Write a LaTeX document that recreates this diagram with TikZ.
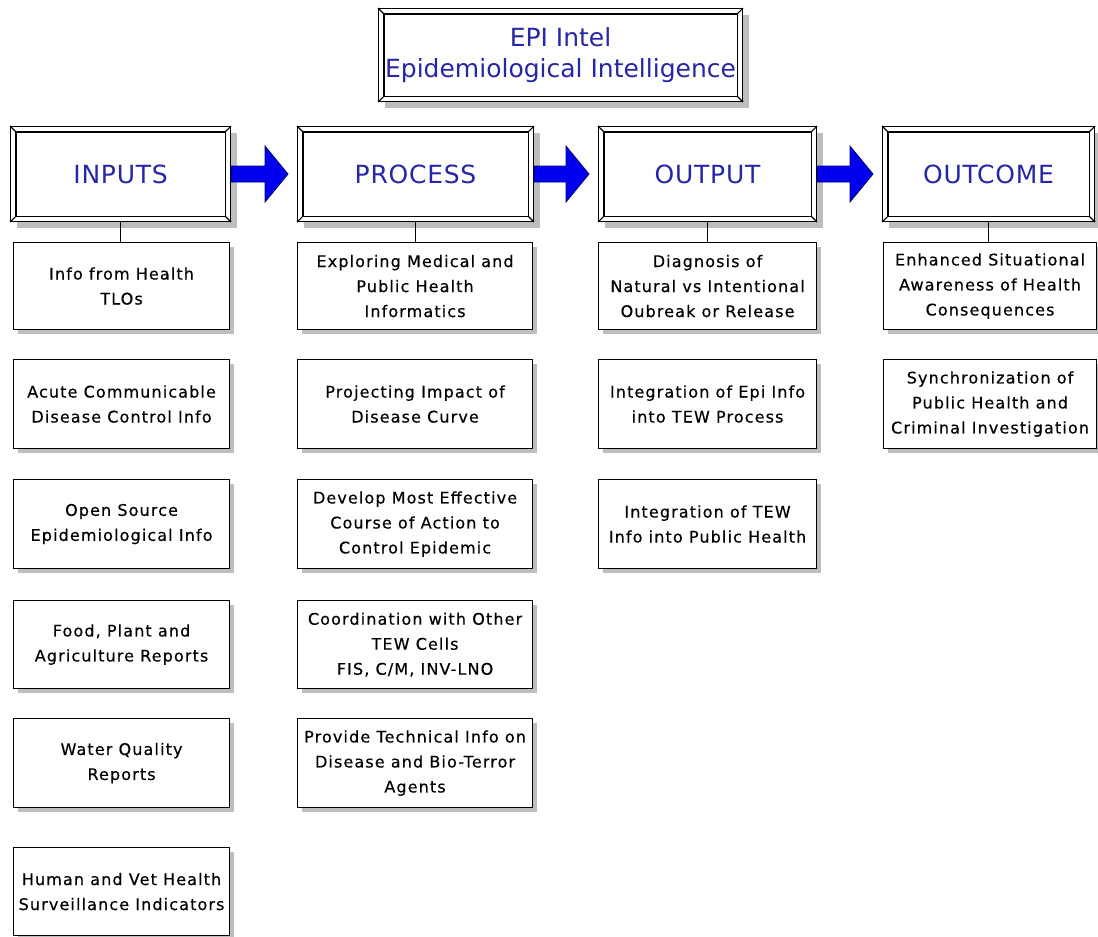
\documentclass[tikz,border=0pt]{standalone}
\usepackage{fontspec}
\usetikzlibrary{shadows,calc}
\newfontfamily\bodyfont[LetterSpace=7,FakeBold=0.4]{DejaVu Sans}
\newfontfamily\headfont[LetterSpace=3]{DejaVu Sans}
\newfontfamily\titlefont{DejaVu Sans}
\definecolor{headblue}{RGB}{38,38,168}
\definecolor{arrowblue}{RGB}{0,0,238}
\definecolor{arrowedge}{RGB}{0,0,120}
\definecolor{shadowgray}{RGB}{190,190,190}

\begin{document}
\begin{tikzpicture}[x=1pt,y=-1pt,
  itembox/.style={draw, line width=1.1pt, fill=white, align=center,
    inner sep=0pt, anchor=north west,
    font={\bodyfont\fontsize{16pt}{25pt}\selectfont},
    drop shadow={shadow xshift=4pt, shadow yshift=-4pt, fill=shadowgray, opacity=1}},
  headbox/.style={draw, line width=1.1pt, fill=white, align=center,
    inner sep=0pt, anchor=north west, text=headblue,
    font={\headfont\fontsize{25pt}{30pt}\selectfont},
    drop shadow={shadow xshift=6pt, shadow yshift=-6pt, fill=shadowgray, opacity=1}},
  frame/.style={line width=1.1pt},
  link/.style={line width=1.1pt},
  bluearrow/.style={fill=arrowblue, draw=arrowedge, line width=0.8pt, line join=miter}
]
\fill[white] (0,0) rectangle (1098,937);
\useasboundingbox (0,0) rectangle (1098,937);

% title block
\node[headbox, font={\titlefont\fontsize{25pt}{31pt}\selectfont},
  minimum width=364pt, minimum height=93pt] (title) at (378,8)
  {EPI Intel\\Epidemiological Intelligence};

% column headings
\node[headbox, minimum width=220pt, minimum height=95pt] (hin)  at (10,126)  {INPUTS};
\node[headbox, minimum width=236pt, minimum height=95pt] (hpr)  at (297,126) {PROCESS};
\node[headbox, minimum width=218pt, minimum height=95pt] (hout) at (598,126) {OUTPUT};
\node[headbox, minimum width=212pt, minimum height=95pt] (hoc)  at (882,126) {OUTCOME};

% inner frame lines and bevelled corners of the framed boxes
\foreach \n in {title,hin,hpr,hout,hoc}{
  \draw[frame] ([shift={(6pt,-6pt)}]\n.north west) rectangle ([shift={(-6pt,6pt)}]\n.south east);
  \draw[frame] (\n.north west) -- ([shift={(6pt,-6pt)}]\n.north west);
  \draw[frame] (\n.north east) -- ([shift={(-6pt,-6pt)}]\n.north east);
  \draw[frame] (\n.south west) -- ([shift={(6pt,6pt)}]\n.south west);
  \draw[frame] (\n.south east) -- ([shift={(-6pt,6pt)}]\n.south east);
}

% inputs
\node[itembox, minimum width=216pt, minimum height=87pt] (a1) at (13,242) {Info from Health\\TLOs};
\node[itembox, minimum width=216pt, minimum height=89pt] (a2) at (13,359) {Acute Communicable\\Disease Control Info};
\node[itembox, minimum width=216pt, minimum height=89pt] (a3) at (13,479) {Open Source\\Epidemiological Info};
\node[itembox, minimum width=216pt, minimum height=88pt] (a4) at (13,600) {Food, Plant and\\Agriculture Reports};
\node[itembox, minimum width=216pt, minimum height=89pt] (a5) at (13,718) {Water Quality\\Reports};
\node[itembox, minimum width=216pt, minimum height=88pt] (a6) at (13,847) {Human and Vet Health\\Surveillance Indicators};

% process
\node[itembox, minimum width=235pt, minimum height=87pt] (b1) at (297,242) {Exploring Medical and\\Public Health\\Informatics};
\node[itembox, minimum width=235pt, minimum height=89pt] (b2) at (297,359) {Projecting Impact of\\Disease Curve};
\node[itembox, minimum width=235pt, minimum height=89pt] (b3) at (297,479) {Develop Most Effective\\Course of Action to\\Control Epidemic};
\node[itembox, minimum width=235pt, minimum height=88pt] (b4) at (297,600) {Coordination with Other\\TEW Cells\\FIS, C/M, INV-LNO};
\node[itembox, minimum width=235pt, minimum height=89pt] (b5) at (297,718) {Provide Technical Info on\\Disease and Bio-Terror\\Agents};

% output
\node[itembox, minimum width=218pt, minimum height=87pt] (c1) at (598,242) {Diagnosis of\\Natural vs Intentional\\Oubreak or Release};
\node[itembox, minimum width=218pt, minimum height=89pt] (c2) at (598,359) {Integration of Epi Info\\into TEW Process};
\node[itembox, minimum width=218pt, minimum height=89pt] (c3) at (598,479) {Integration of TEW\\Info into Public Health};

% outcome
\node[itembox, minimum width=213pt, minimum height=87pt] (d1) at (883,242) {Enhanced Situational\\Awareness of Health\\Consequences};
\node[itembox, minimum width=213pt, minimum height=89pt] (d2) at (883,359) {Synchronization of\\Public Health and\\Criminal Investigation};

% heading to first item
\draw[link] (hin.south)  -- (hin.south  |- a1.north);
\draw[link] (hpr.south)  -- (hpr.south  |- b1.north);
\draw[link] (hout.south) -- (hout.south |- c1.north);
\draw[link] (hoc.south)  -- (hoc.south  |- d1.north);

% block arrows between headings
\foreach \s/\t in {hin/hpr, hpr/hout, hout/hoc}{
  \draw[bluearrow] let \p1=(\s.east), \p2=(\t.west) in
    (\x1,\y1+8pt) -- (\x2-32pt,\y1+8pt) -- (\x2-32pt,\y1+28pt) -- (\x2-9pt,\y1)
    -- (\x2-32pt,\y1-28pt) -- (\x2-32pt,\y1-8pt) -- (\x1,\y1-8pt) -- cycle;
}
\end{tikzpicture}
\end{document}
